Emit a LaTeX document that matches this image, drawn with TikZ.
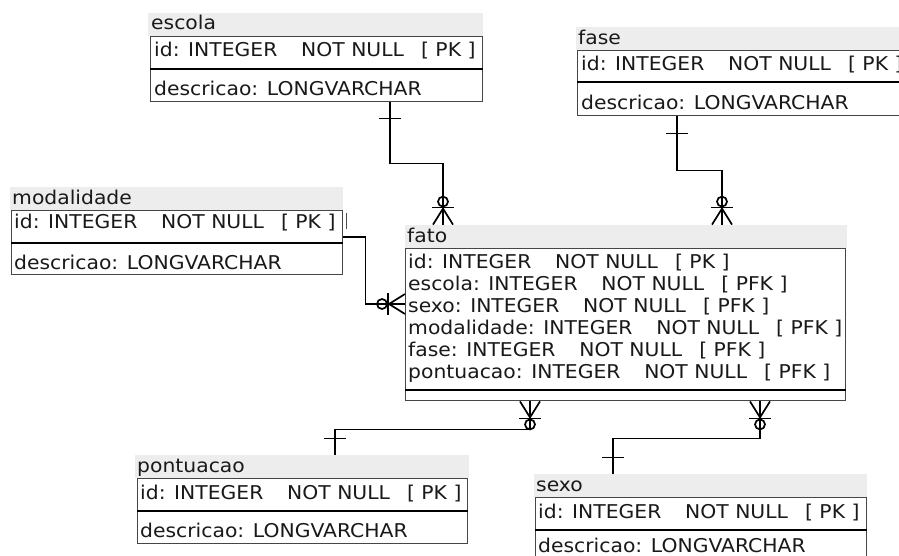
\documentclass[tikz,border=0pt]{standalone}
\usepackage{fontspec}
\setmainfont{DejaVu Sans}[FakeStretch=1.07]
\definecolor{bandgray}{RGB}{237,237,237}
\definecolor{boxgray}{RGB}{70,70,70}
\definecolor{txtc}{RGB}{25,25,25}
\tikzset{
  band/.style={fill=bandgray, draw=none, inner sep=0, anchor=south west, minimum height=23pt},
  tbox/.style={draw=boxgray, line width=1.4pt, fill=white, inner sep=0, anchor=north west},
  divline/.style={line width=2.2pt, black},
  txt/.style={anchor=base west, inner sep=0, font=\fontsize{19}{20}\selectfont, text=txtc},
  conn/.style={line width=1.7pt, black},
  zm/.pic={
    \draw[conn] (-10,0) -- (0,-16) -- (10,0);
    \draw[conn] (0,0) -- (0,-16);
    \draw[conn] (-11,-17) -- (11,-17);
    \draw[conn] (0,-23) circle[radius=5pt];
  },
  onebar/.pic={\draw[conn] (-11,0) -- (11,0);}
}
\newcommand\spc{\hspace{1.25em}}
\newcommand\spb{\hspace{0.9em}}
\begin{document}
\begin{tikzpicture}[x=1pt,y=-1pt]
\useasboundingbox (0,0) rectangle (899,555);
\clip (0,0) rectangle (899,555);

% ---------- escola ----------
\node[band, minimum width=335pt] (escolaT) at (148,36) {};
\node[tbox, minimum width=332pt, minimum height=65pt] (escola) at (150,36) {};
\draw[divline] ([yshift=-33pt]escola.north west) -- ([yshift=-33pt]escola.north east);
\node[txt] (escolaL) at (151,29) {escola};
\node[txt] (escolaA) at (154,56) {id: INTEGER\spc NOT NULL\spb [ PK ]};
\node[txt] (escolaB) at (154,95) {descricao: LONGVARCHAR};

% ---------- fase ----------
\node[band, minimum width=335pt] (faseT) at (576,50) {};
\node[tbox, minimum width=332pt, minimum height=65pt] (fase) at (577,50) {};
\draw[divline] ([yshift=-32pt]fase.north west) -- ([yshift=-32pt]fase.north east);
\node[txt] (faseL) at (578,44) {fase};
\node[txt] (faseA) at (581,70) {id: INTEGER\spc NOT NULL\spb [ PK ]};
\node[txt] (faseB) at (581,109) {descricao: LONGVARCHAR};

% ---------- modalidade ----------
\node[band, minimum width=333pt] (modT) at (10,210) {};
\node[tbox, minimum width=331pt, minimum height=64pt] (mod) at (11,210) {};
\draw[divline] ([yshift=-33pt]mod.north west) -- ([yshift=-33pt]mod.north east);
\node[txt] (modL) at (12,204) {modalidade};
\node[txt] (modA) at (14,228) {id: INTEGER\spc NOT NULL\spb [ PK ]};
\node[txt] (modB) at (14,269) {descricao: LONGVARCHAR};

% ---------- fato ----------
\node[band, minimum width=442pt] (fatoT) at (405,248) {};
\node[tbox, minimum width=440pt, minimum height=152pt] (fato) at (405,248) {};
\draw[divline] ([yshift=-142pt]fato.north west) -- ([yshift=-142pt]fato.north east);
\node[txt] (fatoL) at (407,242) {fato};
\node[txt] (fato1) at (408,268) {id: INTEGER\spc NOT NULL\spb [ PK ]};
\node[txt] (fato2) at (408,290) {escola: INTEGER\spc NOT NULL\spb [ PFK ]};
\node[txt] (fato3) at (408,312) {sexo: INTEGER\spc NOT NULL\spb [ PFK ]};
\node[txt] (fato4) at (408,334) {modalidade: INTEGER\spc NOT NULL\spb [ PFK ]};
\node[txt] (fato5) at (408,356) {fase: INTEGER\spc NOT NULL\spb [ PFK ]};
\node[txt] (fato6) at (408,378) {pontuacao: INTEGER\spc NOT NULL\spb [ PFK ]};

% ---------- pontuacao ----------
\node[band, minimum width=334pt] (pontT) at (135,478) {};
\node[tbox, minimum width=330pt, minimum height=65pt] (pont) at (137,478) {};
\draw[divline] ([yshift=-33pt]pont.north west) -- ([yshift=-33pt]pont.north east);
\node[txt] (pontL) at (137,472) {pontuacao};
\node[txt] (pontA) at (140,499) {id: INTEGER\spc NOT NULL\spb [ PK ]};
\node[txt] (pontB) at (140,537) {descricao: LONGVARCHAR};

% ---------- sexo ----------
\node[band, minimum width=333pt] (sexoT) at (534,497) {};
\node[tbox, minimum width=331pt, minimum height=65pt] (sexo) at (535,497) {};
\draw[divline] ([yshift=-33pt]sexo.north west) -- ([yshift=-33pt]sexo.north east);
\node[txt] (sexoL) at (536,491) {sexo};
\node[txt] (sexoA) at (538,518) {id: INTEGER\spc NOT NULL\spb [ PK ]};
\node[txt] (sexoB) at (538,552) {descricao: LONGVARCHAR};

% ---------- connectors ----------
% escola -> fato
\coordinate (c1a) at ([xshift=240pt]escola.south west);
\coordinate (c1b) at ([xshift=38pt]fatoT.north west);
\draw[conn] (c1a) -- ++(0,61) -| (c1b);
\pic at ([yshift=-16pt]c1a) {onebar};
\pic at (c1b) {zm};

% fase -> fato
\coordinate (c2a) at ([xshift=100pt]fase.south west);
\coordinate (c2b) at ([xshift=317pt]fatoT.north west);
\draw[conn] (c2a) -- ++(0,54) -| (c2b);
\pic at ([yshift=-17pt]c2a) {onebar};
\pic at (c2b) {zm};

% modalidade -> fato
\coordinate (c3a) at ([yshift=-27pt]mod.north east);
\coordinate (c3b) at ([yshift=-56pt]fato.north west);
\draw[conn] (c3a) -- ++(22,0) |- (c3b);
\draw[line width=1.2pt, black!70] ([xshift=3pt,yshift=8pt]c3a) -- ++(0,-16);
\pic[rotate=90] at (c3b) {zm};

% fato -> pontuacao
\coordinate (c4a) at ([xshift=125pt]fato.south west);
\coordinate (c4b) at ([xshift=200pt]pontT.north west);
\draw[conn] (c4a) -- ++(0,28) -| (c4b);
\pic[yscale=-1] at (c4a) {zm};
\pic at ([yshift=16pt]c4b) {onebar};

% fato -> sexo
\coordinate (c5a) at ([xshift=355pt]fato.south west);
\coordinate (c5b) at ([xshift=79pt]sexoT.north west);
\draw[conn] (c5a) -- ++(0,37) -| (c5b);
\pic[yscale=-1] at (c5a) {zm};
\pic at ([yshift=16pt]c5b) {onebar};
\end{tikzpicture}
\end{document}
